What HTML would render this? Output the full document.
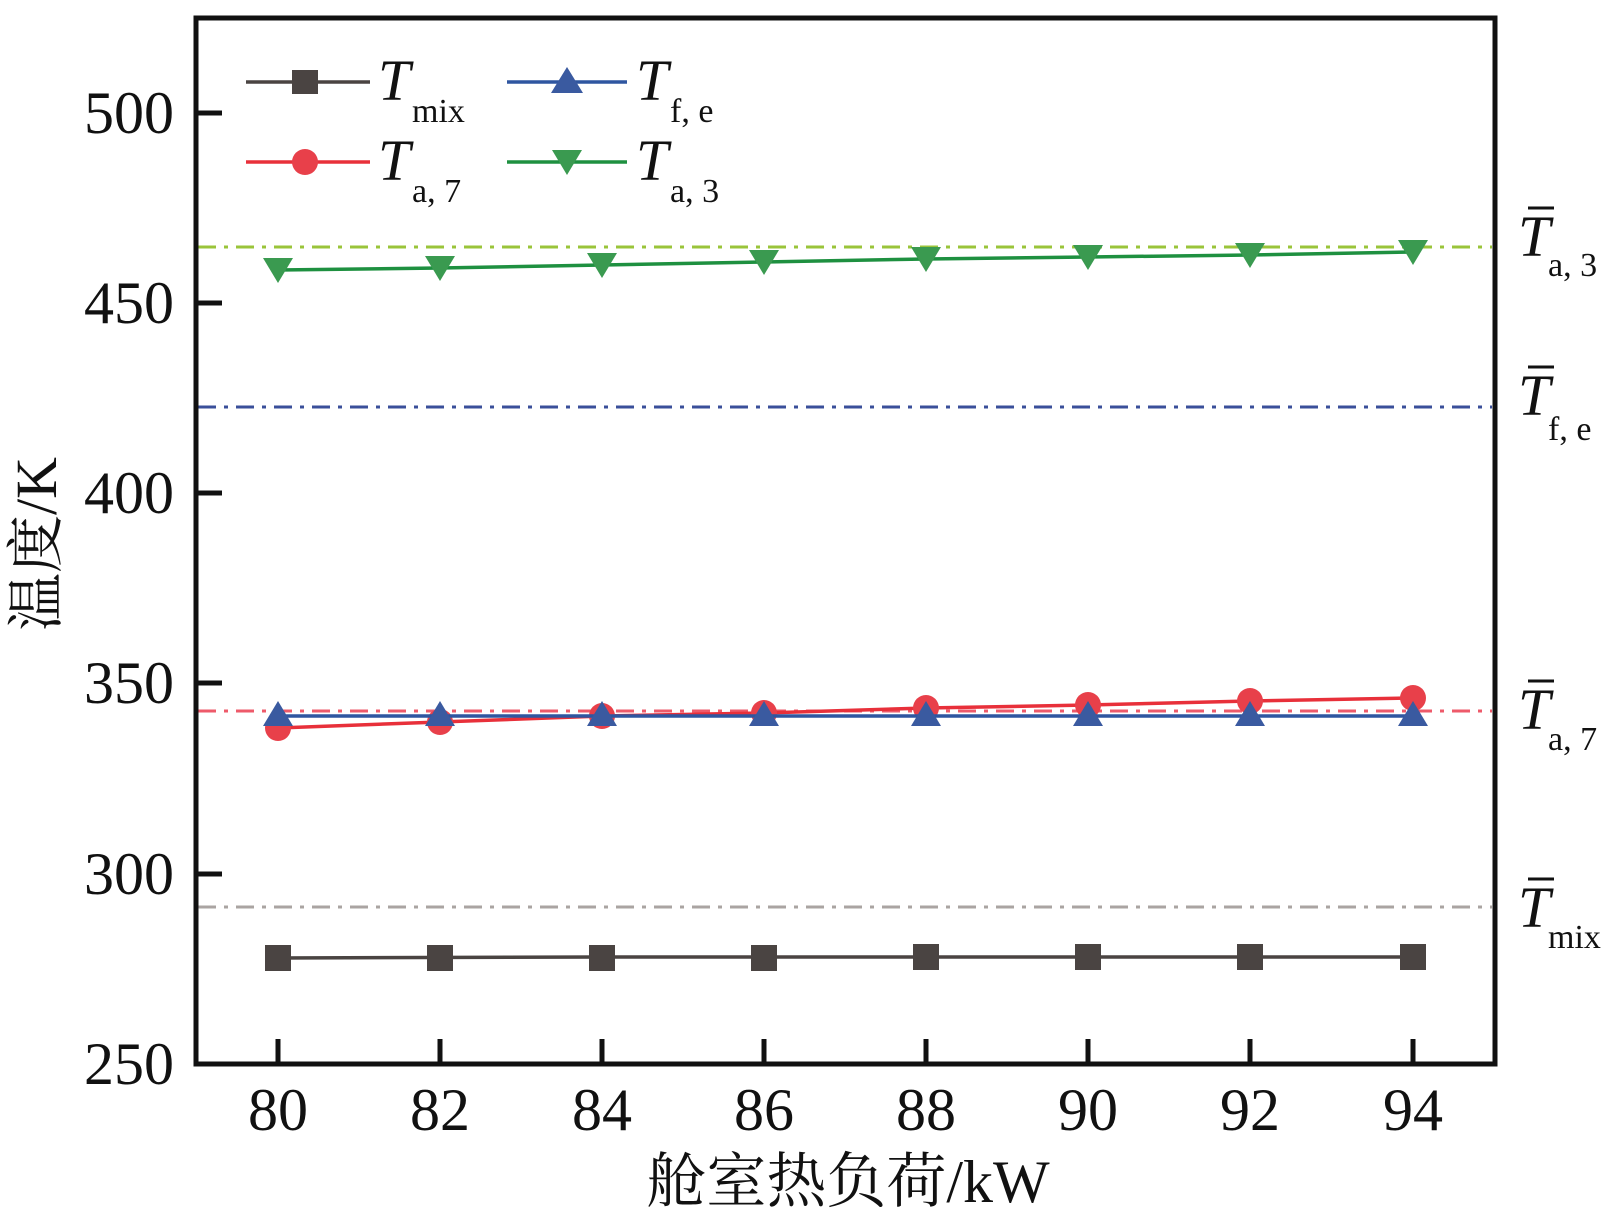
<!DOCTYPE html>
<html><head><meta charset="utf-8"><style>html,body{margin:0;padding:0;background:#fff}svg{display:block}</style></head>
<body>
<svg width="1613" height="1222" viewBox="0 0 1613 1222" xmlns="http://www.w3.org/2000/svg" font-family="'Liberation Serif','Noto Serif CJK SC',serif">
<rect width="1613" height="1222" fill="#fff"/>
<g stroke-width="3" stroke-dasharray="18,8,4,8" fill="none">
<line x1="198" y1="247" x2="1492" y2="247" stroke="#9ac43a"/>
<line x1="198" y1="407" x2="1492" y2="407" stroke="#3a4f9a"/>
<line x1="198" y1="711" x2="1492" y2="711" stroke="#ee5a6a"/>
<line x1="198" y1="907" x2="1492" y2="907" stroke="#aaa4a2"/>
</g>
<polyline fill="none" stroke="#4a4442" stroke-width="3.5" points="278,958 602,957 1413,957" />
<g fill="#4a4442">
<rect x="265" y="945" width="26" height="26"/><rect x="427" y="945" width="26" height="26"/><rect x="589" y="945" width="26" height="26"/><rect x="751" y="945" width="26" height="26"/><rect x="913" y="944" width="26" height="26"/><rect x="1075" y="944" width="26" height="26"/><rect x="1237" y="944" width="26" height="26"/><rect x="1400" y="944" width="26" height="26"/>
</g>
<polyline fill="none" stroke="#e8303a" stroke-width="3.5" points="278,728 440,722 602,716 764,713 926,708 1088,705 1250,701 1413,698"/>
<g fill="#e8404a">
<circle cx="278" cy="728" r="13"/><circle cx="440" cy="722" r="13"/><circle cx="602" cy="716" r="13"/><circle cx="764" cy="713" r="13"/><circle cx="926" cy="708" r="13"/><circle cx="1088" cy="705" r="13"/><circle cx="1250" cy="701" r="13"/><circle cx="1413" cy="698" r="13"/>
</g>
<polyline fill="none" stroke="#2f56a0" stroke-width="3.5" points="278,716 1413,716"/>
<g fill="#3a5aa0">
<path d="M278,701 l15,25 h-30z"/><path d="M440,701 l15,25 h-30z"/><path d="M602,701 l15,25 h-30z"/><path d="M764,701 l15,25 h-30z"/><path d="M926,701 l15,25 h-30z"/><path d="M1088,701 l15,25 h-30z"/><path d="M1250,701 l15,25 h-30z"/><path d="M1413,701 l15,25 h-30z"/>
</g>
<polyline fill="none" stroke="#1e9040" stroke-width="3.5" points="278,270 440,268 602,265 764,262 926,259 1088,257 1250,255 1413,252"/>
<g fill="#3a9a50">
<path d="M278,283 l-15,-25 h30z"/><path d="M440,281 l-15,-25 h30z"/><path d="M602,278 l-15,-25 h30z"/><path d="M764,275 l-15,-25 h30z"/><path d="M926,272 l-15,-25 h30z"/><path d="M1088,270 l-15,-25 h30z"/><path d="M1250,268 l-15,-25 h30z"/><path d="M1413,265 l-15,-25 h30z"/>
</g>
<line x1="246" y1="82" x2="370" y2="82" stroke="#4a4442" stroke-width="3.5"/><rect x="292" y="70" width="26" height="24" fill="#4a4442"/>
<line x1="246" y1="162" x2="370" y2="162" stroke="#e8303a" stroke-width="3.5"/><circle cx="305" cy="162" r="13" fill="#e8404a"/>
<line x1="507" y1="82" x2="627" y2="82" stroke="#2f56a0" stroke-width="3.5"/><path d="M567,67 l16,26 h-32z" fill="#3a5aa0"/>
<line x1="507" y1="162" x2="627" y2="162" stroke="#1e9040" stroke-width="3.5"/><path d="M567,175 l-15,-25 h30z" fill="#3a9a50"/>
<g font-size="58" fill="#111">
<text x="378" y="100" font-style="italic">T</text><text x="412" y="122" font-size="34">mix</text>
<text x="378" y="180" font-style="italic">T</text><text x="412" y="202" font-size="34">a, 7</text>
<text x="636" y="100" font-style="italic">T</text><text x="670" y="122" font-size="34">f, e</text>
<text x="636" y="180" font-style="italic">T</text><text x="670" y="202" font-size="34">a, 3</text>
</g>
<g font-size="58" fill="#111">
<g transform="translate(1518,0)">
<text x="0" y="256" font-style="italic">T</text><line x1="10" y1="208" x2="36" y2="208" stroke="#111" stroke-width="3"/><text x="30" y="276" font-size="34">a, 3</text>
<text x="0" y="415" font-style="italic">T</text><line x1="10" y1="367" x2="36" y2="367" stroke="#111" stroke-width="3"/><text x="30" y="440" font-size="34">f, e</text>
<text x="0" y="729" font-style="italic">T</text><line x1="10" y1="681" x2="36" y2="681" stroke="#111" stroke-width="3"/><text x="30" y="750" font-size="34">a, 7</text>
<text x="0" y="927" font-style="italic">T</text><line x1="10" y1="879" x2="36" y2="879" stroke="#111" stroke-width="3"/><text x="30" y="948" font-size="34">mix</text>
</g>
</g>
<rect x="196" y="18" width="1299" height="1046" fill="none" stroke="#111" stroke-width="5"/>
<g stroke="#111" stroke-width="5">
<line x1="196" y1="113" x2="222" y2="113"/><line x1="196" y1="303" x2="222" y2="303"/><line x1="196" y1="493" x2="222" y2="493"/><line x1="196" y1="683" x2="222" y2="683"/><line x1="196" y1="874" x2="222" y2="874"/>
<line x1="278" y1="1064" x2="278" y2="1039"/><line x1="440" y1="1064" x2="440" y2="1039"/><line x1="602" y1="1064" x2="602" y2="1039"/><line x1="764" y1="1064" x2="764" y2="1039"/><line x1="926" y1="1064" x2="926" y2="1039"/><line x1="1088" y1="1064" x2="1088" y2="1039"/><line x1="1250" y1="1064" x2="1250" y2="1039"/><line x1="1413" y1="1064" x2="1413" y2="1039"/>
</g>
<g font-size="60" fill="#111" text-anchor="end">
<text x="174" y="133">500</text><text x="174" y="323">450</text><text x="174" y="513">400</text><text x="174" y="703">350</text><text x="174" y="894">300</text><text x="174" y="1084">250</text>
</g>
<g font-size="60" fill="#111" text-anchor="middle">
<text x="278" y="1130">80</text><text x="440" y="1130">82</text><text x="602" y="1130">84</text><text x="764" y="1130">86</text><text x="926" y="1130">88</text><text x="1088" y="1130">90</text><text x="1250" y="1130">92</text><text x="1413" y="1130">94</text>
</g>
<text x="848" y="1202" font-size="60" text-anchor="middle" fill="#111">舱室热负荷/kW</text>
<text transform="translate(56,544) rotate(-90)" font-size="58" text-anchor="middle" fill="#111">温度/K</text>
</svg>
</body></html>
